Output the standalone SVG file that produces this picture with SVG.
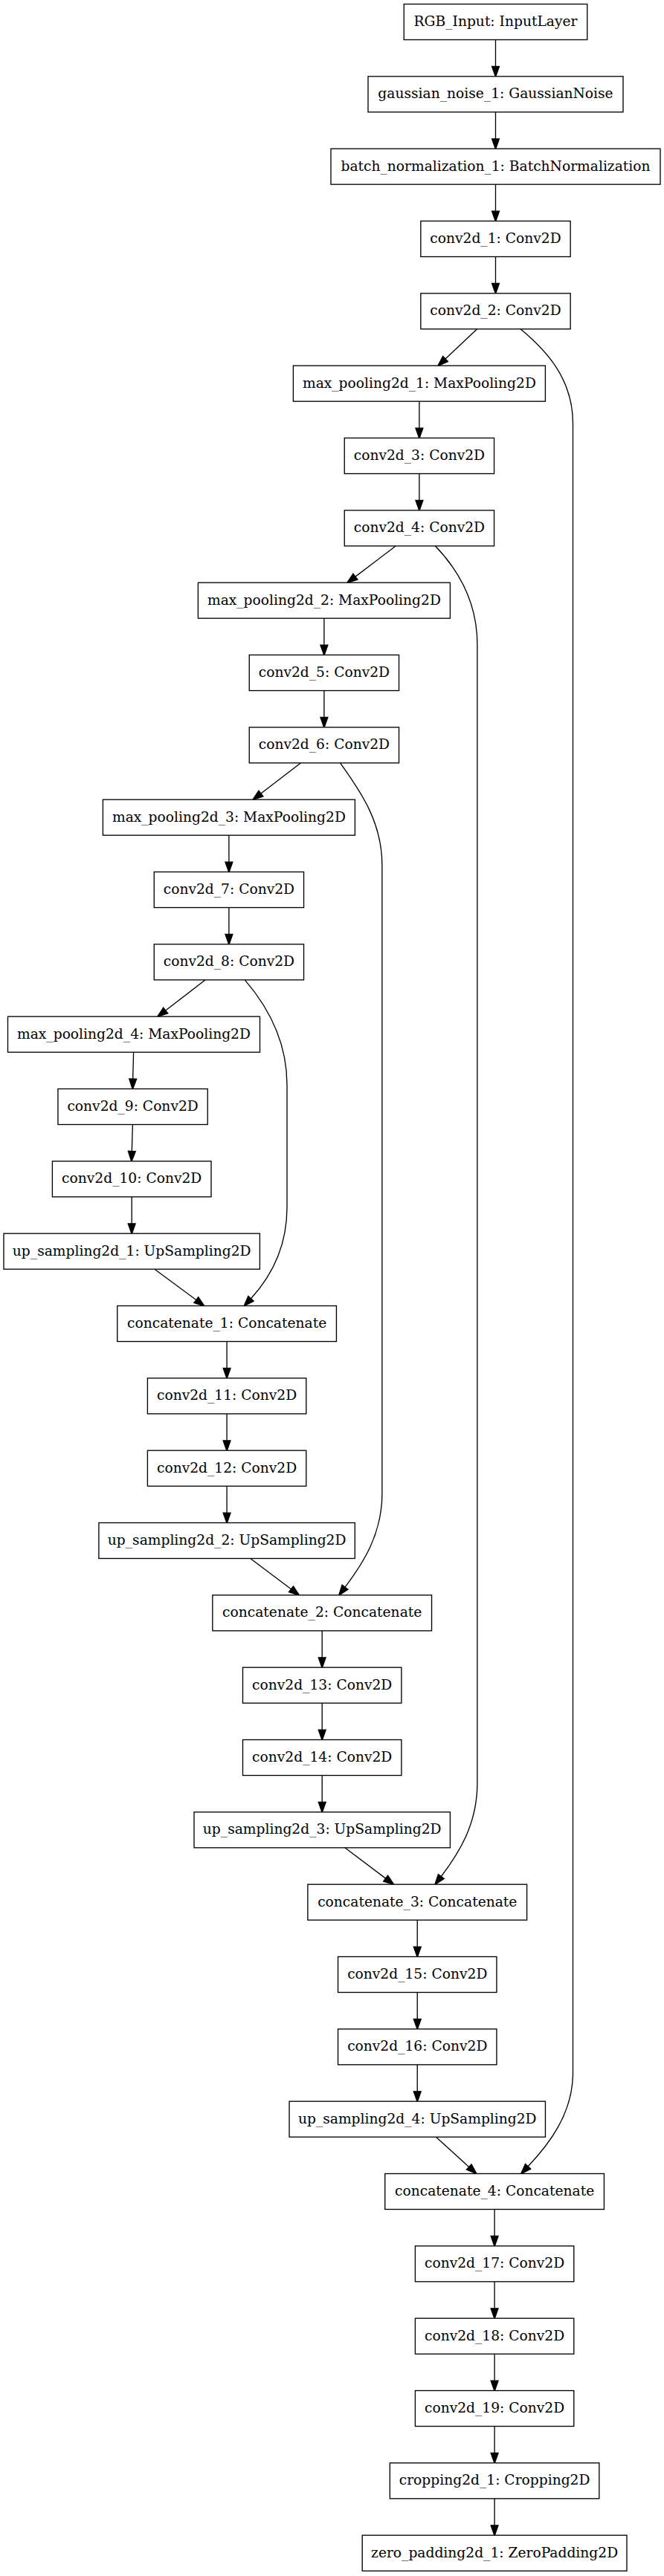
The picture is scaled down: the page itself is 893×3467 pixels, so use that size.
<svg xmlns="http://www.w3.org/2000/svg" width="893" height="3467" viewBox="0 0 893 3467">
<defs>
<marker id="ah" markerUnits="userSpaceOnUse" markerWidth="14" markerHeight="10" refX="0" refY="4.67" orient="auto" viewBox="0 0 13.33 9.33" overflow="visible">
<path d="M0,0 L13.33,4.67 L0,9.33 Z" fill="#000" stroke="#000" stroke-width="1.33"/>
</marker>
</defs>
<style>
.n rect{fill:#fff;stroke:#000;stroke-width:1.33}
.n text{font-family:"DejaVu Serif","Liberation Serif",serif;font-size:18.67px;text-anchor:middle;fill:#000}
#edges path{fill:none;stroke:#000;stroke-width:1.33;marker-end:url(#ah)}
</style>
<rect x="0" y="0" width="893" height="3467" fill="#fff"/>
<g id="edges">
<path d="M666.5,53.5 V89.5"/>
<path d="M666.5,150.83 V186.83"/>
<path d="M666.5,248.17 V284.17"/>
<path d="M666.5,345.5 V381.5"/>
<path d="M641.7,442.83 L599,483"/>
<path d="M700,442.83 C735,472 770.5,510 770.5,570 L770.5,2790 C770.5,2845 737.5,2886.7 710.1,2915.8"/>
<path d="M563.9,540.17 V576.17"/>
<path d="M563.9,637.5 V673.5"/>
<path d="M532.3,734.83 L477.9,776.1"/>
<path d="M585.3,734.83 C613.3,763.8 641.9,806.8 641.9,867.8 L641.9,2400 C641.9,2455 617.4,2493.6 593.3,2525.5"/>
<path d="M435.9,832.17 V868.17"/>
<path d="M435.9,929.5 V965.5"/>
<path d="M404.6,1026.83 L350.9,1068.05"/>
<path d="M457.6,1026.83 C479.6,1058.8 513.9,1101.8 513.9,1164.8 L513.9,2010 C513.9,2065 488,2104.2 464,2136.2"/>
<path d="M307.9,1124.17 V1160.17"/>
<path d="M307.9,1221.5 V1257.5"/>
<path d="M276.2,1318.83 L222.7,1360"/>
<path d="M329.3,1318.83 C355.3,1349 386,1395 386,1460 L386,1625 C386,1680 364.5,1718.2 337.5,1747.7"/>
<path d="M179.6,1416.17 L178.7,1452.17"/>
<path d="M178.4,1513.5 L177.3,1549.5"/>
<path d="M177.2,1610.83 V1646.83"/>
<path d="M208,1708.17 L263.8,1749.56"/>
<path d="M305.1,1805.5 V1841.5"/>
<path d="M305.1,1902.83 V1938.83"/>
<path d="M305.1,2000.17 V2036.17"/>
<path d="M336.7,2097.5 L391.5,2138.8"/>
<path d="M433.2,2194.83 V2230.83"/>
<path d="M433.2,2292.17 V2328.17"/>
<path d="M433.2,2389.5 V2425.5"/>
<path d="M463.8,2486.83 L518.6,2528.1"/>
<path d="M561.25,2584.17 V2620.17"/>
<path d="M561.25,2681.5 V2717.5"/>
<path d="M561.25,2778.83 V2814.83"/>
<path d="M586.5,2876.17 L630.7,2916.5"/>
<path d="M665.1,2973.5 V3009.5"/>
<path d="M665.1,3070.83 V3106.83"/>
<path d="M665.1,3168.17 V3204.17"/>
<path d="M665.1,3265.5 V3301.5"/>
<path d="M665.1,3362.83 V3398.83"/>
</g>
<g id="n0" class="n"><rect x="543.25" y="5.5" width="246.5" height="48"/><text x="666.5" y="35.1">RGB_Input: InputLayer</text></g>
<g id="n1" class="n"><rect x="495" y="102.83" width="343" height="48"/><text x="666.5" y="132.43">gaussian_noise_1: GaussianNoise</text></g>
<g id="n2" class="n"><rect x="445" y="200.17" width="443" height="48"/><text x="666.5" y="229.77">batch_normalization_1: BatchNormalization</text></g>
<g id="n3" class="n"><rect x="565.85" y="297.5" width="201.3" height="48"/><text x="666.5" y="327.1">conv2d_1: Conv2D</text></g>
<g id="n4" class="n"><rect x="565.85" y="394.83" width="201.3" height="48"/><text x="666.5" y="424.43">conv2d_2: Conv2D</text></g>
<g id="n5" class="n"><rect x="394.4" y="492.17" width="339" height="48"/><text x="563.9" y="521.77">max_pooling2d_1: MaxPooling2D</text></g>
<g id="n6" class="n"><rect x="463.25" y="589.5" width="201.3" height="48"/><text x="563.9" y="619.1">conv2d_3: Conv2D</text></g>
<g id="n7" class="n"><rect x="463.25" y="686.83" width="201.3" height="48"/><text x="563.9" y="716.43">conv2d_4: Conv2D</text></g>
<g id="n8" class="n"><rect x="266.4" y="784.17" width="339" height="48"/><text x="435.9" y="813.77">max_pooling2d_2: MaxPooling2D</text></g>
<g id="n9" class="n"><rect x="335.25" y="881.5" width="201.3" height="48"/><text x="435.9" y="911.1">conv2d_5: Conv2D</text></g>
<g id="n10" class="n"><rect x="335.25" y="978.83" width="201.3" height="48"/><text x="435.9" y="1008.43">conv2d_6: Conv2D</text></g>
<g id="n11" class="n"><rect x="138.4" y="1076.17" width="339" height="48"/><text x="307.9" y="1105.77">max_pooling2d_3: MaxPooling2D</text></g>
<g id="n12" class="n"><rect x="207.25" y="1173.5" width="201.3" height="48"/><text x="307.9" y="1203.1">conv2d_7: Conv2D</text></g>
<g id="n13" class="n"><rect x="207.25" y="1270.83" width="201.3" height="48"/><text x="307.9" y="1300.43">conv2d_8: Conv2D</text></g>
<g id="n14" class="n"><rect x="10.5" y="1368.17" width="339" height="48"/><text x="180" y="1397.77">max_pooling2d_4: MaxPooling2D</text></g>
<g id="n15" class="n"><rect x="77.95" y="1465.5" width="201.3" height="48"/><text x="178.6" y="1495.1">conv2d_9: Conv2D</text></g>
<g id="n16" class="n"><rect x="70.4" y="1562.83" width="213.6" height="48"/><text x="177.2" y="1592.43">conv2d_10: Conv2D</text></g>
<g id="n17" class="n"><rect x="5" y="1660.17" width="344.4" height="48"/><text x="177.2" y="1689.77">up_sampling2d_1: UpSampling2D</text></g>
<g id="n18" class="n"><rect x="157.75" y="1757.5" width="294.7" height="48"/><text x="305.1" y="1787.1">concatenate_1: Concatenate</text></g>
<g id="n19" class="n"><rect x="198.4" y="1854.83" width="213.4" height="48"/><text x="305.1" y="1884.43">conv2d_11: Conv2D</text></g>
<g id="n20" class="n"><rect x="198.4" y="1952.17" width="213.4" height="48"/><text x="305.1" y="1981.77">conv2d_12: Conv2D</text></g>
<g id="n21" class="n"><rect x="132.9" y="2049.5" width="344.4" height="48"/><text x="305.1" y="2079.1">up_sampling2d_2: UpSampling2D</text></g>
<g id="n22" class="n"><rect x="285.85" y="2146.83" width="294.7" height="48"/><text x="433.2" y="2176.43">concatenate_2: Concatenate</text></g>
<g id="n23" class="n"><rect x="326.5" y="2244.17" width="213.4" height="48"/><text x="433.2" y="2273.77">conv2d_13: Conv2D</text></g>
<g id="n24" class="n"><rect x="326.5" y="2341.5" width="213.4" height="48"/><text x="433.2" y="2371.1">conv2d_14: Conv2D</text></g>
<g id="n25" class="n"><rect x="261" y="2438.83" width="344.4" height="48"/><text x="433.2" y="2468.43">up_sampling2d_3: UpSampling2D</text></g>
<g id="n26" class="n"><rect x="413.9" y="2536.17" width="294.7" height="48"/><text x="561.25" y="2565.77">concatenate_3: Concatenate</text></g>
<g id="n27" class="n"><rect x="454.55" y="2633.5" width="213.4" height="48"/><text x="561.25" y="2663.1">conv2d_15: Conv2D</text></g>
<g id="n28" class="n"><rect x="454.55" y="2730.83" width="213.4" height="48"/><text x="561.25" y="2760.43">conv2d_16: Conv2D</text></g>
<g id="n29" class="n"><rect x="389.05" y="2828.17" width="344.4" height="48"/><text x="561.25" y="2857.77">up_sampling2d_4: UpSampling2D</text></g>
<g id="n30" class="n"><rect x="517.75" y="2925.5" width="294.7" height="48"/><text x="665.1" y="2955.1">concatenate_4: Concatenate</text></g>
<g id="n31" class="n"><rect x="558.4" y="3022.83" width="213.4" height="48"/><text x="665.1" y="3052.43">conv2d_17: Conv2D</text></g>
<g id="n32" class="n"><rect x="558.4" y="3120.17" width="213.4" height="48"/><text x="665.1" y="3149.77">conv2d_18: Conv2D</text></g>
<g id="n33" class="n"><rect x="558.4" y="3217.5" width="213.4" height="48"/><text x="665.1" y="3247.1">conv2d_19: Conv2D</text></g>
<g id="n34" class="n"><rect x="524.35" y="3314.83" width="281.5" height="48"/><text x="665.1" y="3344.43">cropping2d_1: Cropping2D</text></g>
<g id="n35" class="n"><rect x="487.2" y="3412.17" width="355.8" height="48"/><text x="665.1" y="3441.77">zero_padding2d_1: ZeroPadding2D</text></g>
</svg>
